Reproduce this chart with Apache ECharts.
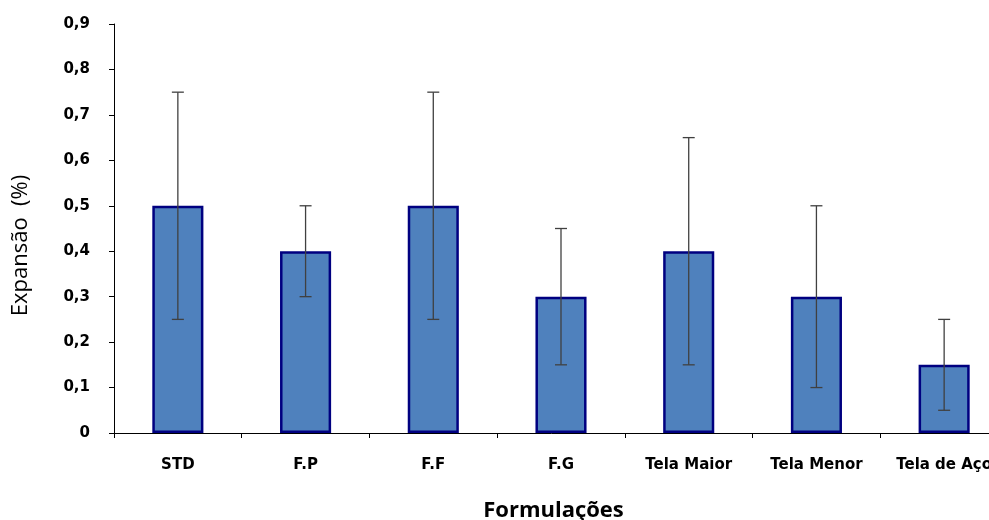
<!DOCTYPE html>
<html><head><meta charset="utf-8">
<script src="https://cdn.jsdelivr.net/npm/echarts@6/dist/echarts.min.js"></script>
<style>html,body{margin:0;padding:0;background:#fff}#c{width:989px;height:520px}</style>
</head><body><div id="c"></div>
<script>
var categories = ['STD', 'F.P', 'F.F', 'F.G', 'Tela Maior', 'Tela Menor', 'Tela de Aço'];
var values = [0.5, 0.4, 0.5, 0.3, 0.4, 0.3, 0.15];
var errLow = [0.25, 0.3, 0.25, 0.15, 0.15, 0.1, 0.05];
var errHigh = [0.75, 0.5, 0.75, 0.45, 0.65, 0.5, 0.25];

var errData = categories.map(function (c, i) { return [i, errLow[i], errHigh[i]]; });
var chart = echarts.init(document.getElementById('c'));
chart.setOption({
  animation: false,
  grid: { left: 114, top: 24, right: -19, bottom: 87, containLabel: false, outerBoundsMode: 'none' },
  xAxis: {
    type: 'category', data: categories,
    axisLine: { lineStyle: { color: '#000', width: 1 } },
    axisTick: { show: true, length: 5, lineStyle: { color: '#000' } },
    axisLabel: { color: '#000', fontFamily: 'DejaVu Sans', fontWeight: 'bold', fontSize: 15, margin: 25 },
    name: 'Formulações', nameLocation: 'middle', nameGap: 67,
    nameTextStyle: { color: '#000', fontFamily: 'Open Sans', fontWeight: 'bold', fontSize: 22, padding: [0, 0, 0, -15] }
  },
  yAxis: {
    type: 'value', min: 0, max: 0.9, interval: 0.1,
    axisLine: { show: true, lineStyle: { color: '#000', width: 1 } },
    axisTick: { show: true, length: 5, lineStyle: { color: '#000' } },
    splitLine: { show: false },
    axisLabel: { color: '#000', fontFamily: 'DejaVu Sans', fontWeight: 'bold', fontSize: 15, margin: 24,
      formatter: function (v) { return v === 0 ? '0' : v.toFixed(1).replace('.', ','); } },
    name: 'Expansão  (%)', nameLocation: 'middle', nameGap: 82,
    nameTextStyle: { color: '#000', fontFamily: 'Open Sans', fontSize: 22, padding: [0, 0, 0, -34] }
  },
  series: [{
    type: 'bar', data: values, barWidth: '40%',
    itemStyle: { color: '#4F81BD', borderColor: '#000080', borderWidth: 2.5 }
  }, {
    type: 'custom', data: errData, z: 10,
    renderItem: function (params, api) {
      var x = api.value(0);
      var lo = api.coord([x, api.value(1)]);
      var hi = api.coord([x, api.value(2)]);
      var hw = 6;
      var st = { stroke: '#404040', lineWidth: 1.3 };
      return { type: 'group', children: [
        { type: 'line', shape: { x1: lo[0], y1: lo[1], x2: hi[0], y2: hi[1] }, style: st },
        { type: 'line', shape: { x1: lo[0] - hw, y1: lo[1], x2: lo[0] + hw, y2: lo[1] }, style: st },
        { type: 'line', shape: { x1: hi[0] - hw, y1: hi[1], x2: hi[0] + hw, y2: hi[1] }, style: st }
      ]};
    }
  }]
});
</script></body></html>
